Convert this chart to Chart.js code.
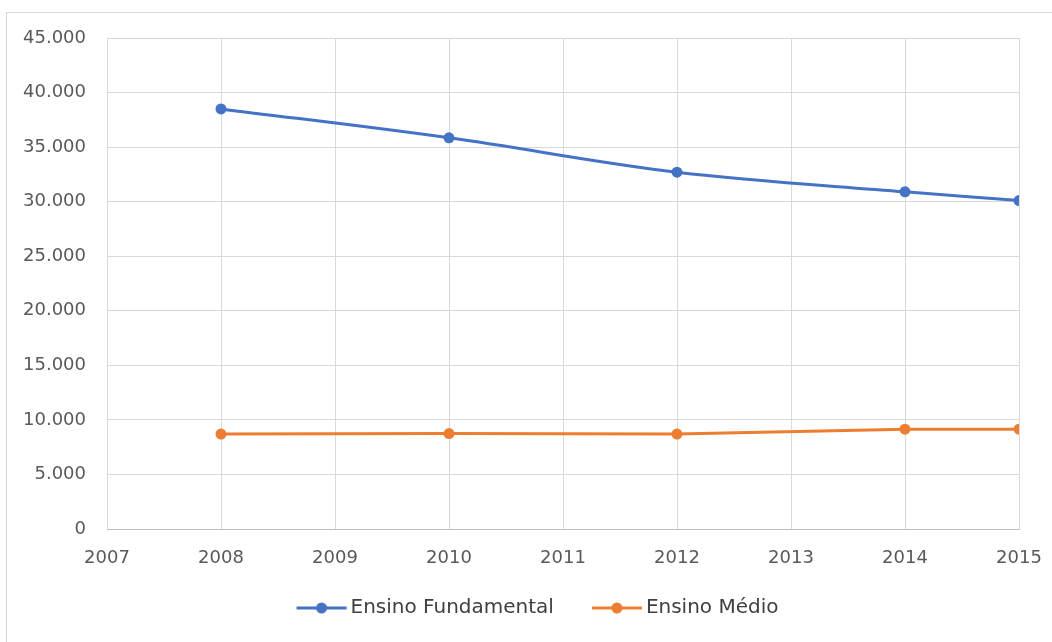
<!DOCTYPE html>
<html lang="pt-BR">
<head>
<meta charset="utf-8">
<title>Matrículas – Ensino Fundamental e Ensino Médio</title>
<script src="https://cdn.jsdelivr.net/npm/chart.js@4/dist/chart.umd.min.js"></script>
<style>
  html, body { margin: 0; padding: 0; background: #ffffff; }
  #wrap { position: relative; width: 1052px; height: 642px; }
</style>
</head>
<body>
<div id="wrap"><canvas id="chart" width="1052" height="642"></canvas></div>
<script>
// Anos do levantamento
const years = [2008, 2010, 2012, 2014, 2015];

// Matrículas por etapa
const fundamental = [38500, 35850, 32700, 30900, 30100];
const medio = [8700, 8750, 8700, 9150, 9150];

// Rótulos dos eixos
const xTickLabels = ['2007', '2008', '2009', '2010', '2011', '2012', '2013', '2014', '2015'];
const yTickLabels = ['0', '5.000', '10.000', '15.000', '20.000', '25.000', '30.000', '35.000', '40.000', '45.000'];

const seriesNames = ['Ensino Fundamental', 'Ensino Médio'];
const seriesColors = ['#4472C4', '#ED7D31'];

const toPoints = (vals) => years.map((y, i) => ({ x: y, y: vals[i] }));

// Ícone da legenda: traço com marcador circular, encostado à direita
// (a parte esquerda transparente serve de espaço entre os itens)
function legendIcon(color) {
  const c = document.createElement('canvas');
  c.width = 100; c.height = 14;
  const g = c.getContext('2d');
  g.strokeStyle = color;
  g.lineWidth = 3;
  g.beginPath(); g.moveTo(42, 7); g.lineTo(92, 7); g.stroke();
  g.fillStyle = color;
  g.beginPath(); g.arc(67, 7, 5.5, 0, Math.PI * 2); g.fill();
  return c;
}
const icons = seriesColors.map(legendIcon);

// Moldura externa do gráfico
const frame = {
  id: 'frame',
  beforeDraw(chart) {
    const ctx = chart.ctx;
    ctx.save();
    ctx.strokeStyle = '#d9d9d9';
    ctx.lineWidth = 1;
    ctx.strokeRect(6.5, 12.5, 1200, 800);
    ctx.restore();
  }
};

// Centraliza a legenda sob a área de plotagem
const legendShift = {
  id: 'legendShift',
  afterLayout(chart) {
    if (chart.legend) {
      chart.legend.left = 28;
    }
  }
};

const tickFont = { family: '"DejaVu Sans", sans-serif', size: 18 };

new Chart(document.getElementById('chart'), {
  type: 'line',
  data: {
    datasets: [
      {
        label: seriesNames[0],
        data: toPoints(fundamental),
        borderColor: seriesColors[0],
        backgroundColor: seriesColors[0],
        borderWidth: 3,
        pointRadius: 5.5,
        pointBorderWidth: 0,
        pointHoverRadius: 5.5,
        tension: 0.35,
        fill: false
      },
      {
        label: seriesNames[1],
        data: toPoints(medio),
        borderColor: seriesColors[1],
        backgroundColor: seriesColors[1],
        borderWidth: 3,
        pointRadius: 5.5,
        pointBorderWidth: 0,
        pointHoverRadius: 5.5,
        tension: 0,
        fill: false
      }
    ]
  },
  options: {
    responsive: false,
    animation: false,
    devicePixelRatio: 1,
    layout: { padding: { left: 0, right: 33, top: 38, bottom: 14 } },
    scales: {
      x: {
        type: 'linear',
        min: 2007,
        max: 2015,
        afterFit(axis) {
          axis.height = 59;
          axis.paddingLeft = 0;
          axis.paddingRight = 0;
        },
        afterBuildTicks(axis) {
          axis.ticks = xTickLabels.map(t => ({ value: Number(t) }));
        },
        ticks: {
          stepSize: 1,
          padding: 19,
          color: '#595959',
          font: tickFont,
          maxRotation: 0,
          autoSkip: false,
          callback: (v) => xTickLabels[xTickLabels.indexOf(String(v))]
        },
        grid: { color: '#d9d9d9', lineWidth: 1, drawTicks: false },
        border: { display: true, color: '#bfbfbf', width: 1 }
      },
      y: {
        min: 0,
        max: 45000,
        afterFit(axis) { axis.width = 107; },
        ticks: {
          stepSize: 5000,
          padding: 21,
          color: '#595959',
          font: tickFont,
          callback: (v) => yTickLabels[Math.round(v / 5000)]
        },
        grid: { color: '#d9d9d9', lineWidth: 1, drawTicks: false },
        border: { display: false }
      }
    },
    plugins: {
      legend: {
        position: 'bottom',
        labels: {
          usePointStyle: true,
          pointStyleWidth: 72,
          padding: 10,
          color: '#404040',
          font: { family: '"DejaVu Sans", sans-serif', size: 20 },
          generateLabels(chart) {
            const items = Chart.defaults.plugins.legend.labels.generateLabels(chart);
            items.forEach((it, i) => { it.pointStyle = icons[i]; });
            return items;
          }
        }
      },
      tooltip: { enabled: false }
    }
  },
  plugins: [frame, legendShift]
});
</script>
</body>
</html>
